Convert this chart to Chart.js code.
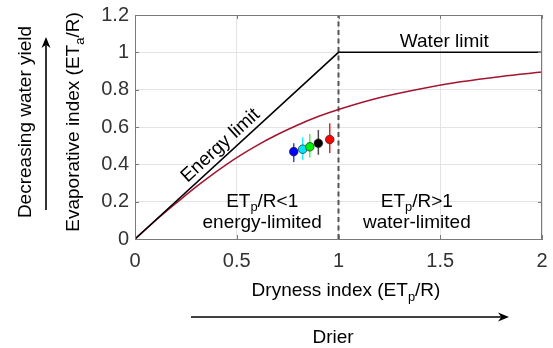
<!DOCTYPE html>
<html>
<head>
<meta charset="utf-8">
<script src="https://cdn.jsdelivr.net/npm/chart.js@4.4.1/dist/chart.umd.min.js"></script>
<style>
  html, body { margin: 0; padding: 0; background: #fff; }
  #wrap { width: 553px; height: 348px; }
</style>
</head>
<body>
<div id="wrap"><canvas id="budyko" width="553" height="348"></canvas></div>
<script>
// --- data ---
const xTicks = ['0', '0.5', '1', '1.5', '2'];
const yTicks = ['0', '0.2', '0.4', '0.6', '0.8', '1', '1.2'];

// energy / water limit (broken line)
const limitX = [0, 1, 2];
const limitY = [0, 1, 1];

// Budyko curve (red)
const curveX = [0, 0.1, 0.2, 0.3, 0.4, 0.5, 0.6, 0.7, 0.8, 0.9, 1.0, 1.2, 1.4, 1.6, 1.8, 2.0];
const curveY = [0, 0.098, 0.190, 0.279, 0.361, 0.436, 0.502, 0.560, 0.611, 0.656, 0.694, 0.757, 0.804, 0.842, 0.871, 0.894];

// dryness threshold (dashed vertical)
const splitX = [1, 1];
const splitY = [0, 1.2];

// catchment groups with error bars
const ptX = [0.78, 0.824, 0.859, 0.901, 0.957];
const ptY = [0.468, 0.481, 0.494, 0.513, 0.533];
const errLo = [0.412, 0.424, 0.436, 0.451, 0.46];
const errHi = [0.513, 0.545, 0.563, 0.584, 0.62];
const ptColors = ['#0000ff', '#00e5ff', '#00ee00', '#000000', '#ff0000'];
const barColors = ['#2f3fff', '#22eaff', '#55ee55', '#4a4a4a', '#ee2020'];

const FONT = '"Liberation Sans", Arial, sans-serif';

function pts(xs, ys) { return xs.map((x, i) => ({ x: x, y: ys[i] })); }

// draws text made of normal / subscript parts, centred on (cx, cy)
function richText(ctx, parts, cx, cy, size) {
    let total = 0;
    parts.forEach(p => {
        ctx.font = (p.sub ? size * 0.68 : size) + 'px ' + FONT;
        p.w = ctx.measureText(p.t).width;
        total += p.w;
    });
    let x = cx - total / 2;
    ctx.textAlign = 'left';
    ctx.textBaseline = 'middle';
    parts.forEach(p => {
        ctx.font = (p.sub ? size * 0.68 : size) + 'px ' + FONT;
        ctx.fillText(p.t, x, p.sub ? cy + size * 0.33 : cy);
        x += p.w;
    });
}

function arrow(ctx, x1, y1, x2, y2) {
    const a = Math.atan2(y2 - y1, x2 - x1);
    const len = 11, half = 4.5;
    ctx.save();
    ctx.strokeStyle = '#000';
    ctx.fillStyle = '#000';
    ctx.lineWidth = 1.6;
    ctx.beginPath();
    ctx.moveTo(x1, y1);
    ctx.lineTo(x2 - Math.cos(a) * 4, y2 - Math.sin(a) * 4);
    ctx.stroke();
    ctx.translate(x2, y2);
    ctx.rotate(a);
    ctx.beginPath();
    ctx.moveTo(0, 0);
    ctx.lineTo(-len, -half);
    ctx.lineTo(-len * 0.7, 0);
    ctx.lineTo(-len, half);
    ctx.closePath();
    ctx.fill();
    ctx.restore();
}

const decorations = {
    id: 'decorations',
    beforeDatasetsDraw(chart) {
        const ctx = chart.ctx, xs = chart.scales.x, ys = chart.scales.y;
        // error bars under the markers
        ctx.save();
        ctx.lineWidth = 1.5;
        ptX.forEach((v, i) => {
            const px = xs.getPixelForValue(v);
            ctx.strokeStyle = barColors[i];
            ctx.beginPath();
            ctx.moveTo(px, ys.getPixelForValue(errLo[i]));
            ctx.lineTo(px, ys.getPixelForValue(errHi[i]));
            ctx.stroke();
        });
        ctx.restore();
    },
    afterDraw(chart) {
        const ctx = chart.ctx, a = chart.chartArea;
        const xs = chart.scales.x, ys = chart.scales.y;
        ctx.save();
        // box + inward ticks
        ctx.strokeStyle = '#7a7a7a';
        ctx.lineWidth = 1;
        ctx.strokeRect(a.left + 0.5, a.top + 0.5, a.right - a.left - 1, a.bottom - a.top);
        ctx.beginPath();
        xs.ticks.forEach(t => {
            const px = Math.round(xs.getPixelForValue(t.value)) + 0.5;
            ctx.moveTo(px, a.bottom); ctx.lineTo(px, a.bottom - 4);
            ctx.moveTo(px, a.top); ctx.lineTo(px, a.top + 4);
        });
        ys.ticks.forEach(t => {
            const py = Math.round(ys.getPixelForValue(t.value)) + 0.5;
            ctx.moveTo(a.left, py); ctx.lineTo(a.left + 4, py);
            ctx.moveTo(a.right, py); ctx.lineTo(a.right - 4, py);
        });
        ctx.stroke();

        ctx.fillStyle = '#000';
        // labels inside the axes
        const sz = 19;
        ctx.save();
        const ex = xs.getPixelForValue(0.42), ey = ys.getPixelForValue(0.5);
        const ang = Math.atan2(ys.getPixelForValue(1) - ys.getPixelForValue(0),
                               xs.getPixelForValue(1) - xs.getPixelForValue(0));
        ctx.translate(ex, ey);
        ctx.rotate(ang);
        richText(ctx, [{ t: 'Energy limit' }], 0, 0, sz);
        ctx.restore();

        richText(ctx, [{ t: 'Water limit' }], xs.getPixelForValue(1.52), ys.getPixelForValue(1.055), sz);
        richText(ctx, [{ t: 'ET' }, { t: 'p', sub: true }, { t: '/R<1' }],
                 xs.getPixelForValue(0.625), ys.getPixelForValue(0.2), sz);
        richText(ctx, [{ t: 'energy-limited' }],
                 xs.getPixelForValue(0.625), ys.getPixelForValue(0.087), sz);
        richText(ctx, [{ t: 'ET' }, { t: 'p', sub: true }, { t: '/R>1' }],
                 xs.getPixelForValue(1.385), ys.getPixelForValue(0.2), sz);
        richText(ctx, [{ t: 'water-limited' }],
                 xs.getPixelForValue(1.385), ys.getPixelForValue(0.087), sz);

        // axis titles
        richText(ctx, [{ t: 'Dryness index (ET' }, { t: 'p', sub: true }, { t: '/R)' }], 346, 291, sz);
        ctx.save();
        ctx.translate(74, 122);
        ctx.rotate(-Math.PI / 2);
        richText(ctx, [{ t: 'Evaporative index (ET' }, { t: 'a', sub: true }, { t: '/R)' }], 0, 0, sz);
        ctx.restore();
        ctx.save();
        ctx.translate(26, 122);
        ctx.rotate(-Math.PI / 2);
        richText(ctx, [{ t: 'Decreasing water yield' }], 0, 0, sz);
        ctx.restore();

        // arrows
        arrow(ctx, 46, 210, 46, 37);
        arrow(ctx, 191, 317, 509, 317);
        richText(ctx, [{ t: 'Drier' }], 333, 338, sz);
        ctx.restore();
    }
};

new Chart(document.getElementById('budyko'), {
    type: 'line',
    data: {
        datasets: [
            {
                label: 'groups',
                data: pts(ptX, ptY),
                showLine: false,
                pointRadius: 4.3,
                pointBackgroundColor: ptColors,
                pointBorderColor: '#222',
                pointBorderWidth: 0.7,
                order: 0
            },
            {
                label: 'limit',
                data: pts(limitX, limitY),
                borderColor: '#000',
                borderWidth: 1.5,
                pointRadius: 0,
                order: 1
            },
            {
                label: 'budyko',
                data: pts(curveX, curveY),
                borderColor: '#a2142f',
                borderWidth: 1.5,
                pointRadius: 0,
                cubicInterpolationMode: 'monotone',
                order: 2
            },
            {
                label: 'threshold',
                data: pts(splitX, splitY),
                borderColor: '#555',
                borderWidth: 2,
                borderDash: [5, 3.5],
                pointRadius: 0,
                order: 3
            }
        ]
    },
    options: {
        responsive: false,
        animation: false,
        devicePixelRatio: 1,
        layout: { padding: { top: 15, right: 11, left: 0, bottom: 0 } },
        plugins: { legend: { display: false }, tooltip: { enabled: false } },
        scales: {
            x: {
                type: 'linear',
                min: 0, max: 2,
                afterFit: s => { s.height = 109; s.paddingLeft = 0; s.paddingRight = 0; },
                afterBuildTicks: s => { s.ticks = xTicks.map(t => ({ value: parseFloat(t) })); },
                ticks: {
                    callback: (v, i) => xTicks[i],
                    font: { family: FONT, size: 20 },
                    color: '#333',
                    padding: 10,
                    maxRotation: 0
                },
                grid: { color: '#e4e4e4', drawTicks: false },
                border: { color: '#7a7a7a' }
            },
            y: {
                type: 'linear',
                min: 0, max: 1.2,
                afterFit: s => { s.width = 135; s.paddingTop = 0; s.paddingBottom = 0; },
                afterBuildTicks: s => { s.ticks = yTicks.map(t => ({ value: parseFloat(t) })); },
                ticks: {
                    callback: (v, i) => yTicks[i],
                    font: { family: FONT, size: 20 },
                    color: '#333',
                    padding: 6
                },
                grid: { color: '#e4e4e4', drawTicks: false },
                border: { color: '#7a7a7a' }
            }
        }
    },
    plugins: [decorations]
});
</script>
</body>
</html>
